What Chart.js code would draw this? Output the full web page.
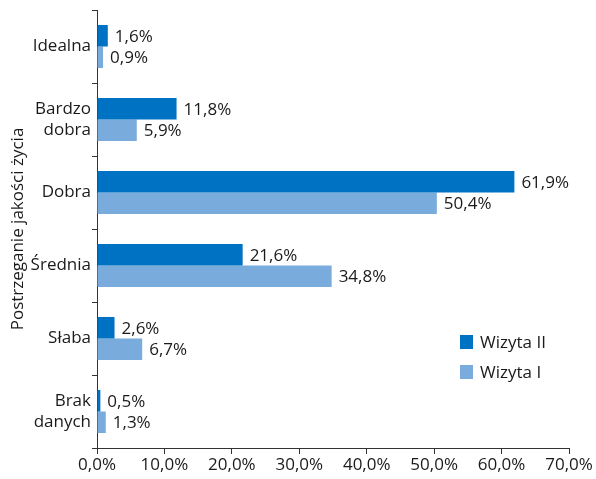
<!DOCTYPE html>
<html>
<head>
<meta charset="utf-8">
<script src="https://cdn.jsdelivr.net/npm/chart.js@4/dist/chart.umd.min.js"></script>
<style>
  body { margin: 0; background: #fff; }
  #wrap { width: 596px; height: 479px; }
</style>
</head>
<body>
<div id="wrap"><canvas id="chart" width="596" height="479"></canvas></div>
<script>
// values
const categories = ['Idealna', ['Bardzo', 'dobra'], 'Dobra', 'Średnia', 'Słaba', ['Brak', 'danych']];
const wizyta2 = [1.6, 11.8, 61.9, 21.6, 2.6, 0.5];
const wizyta1 = [0.9, 5.9, 50.4, 34.8, 6.7, 1.3];
const seriesNames = ['Wizyta II', 'Wizyta I'];
const xTicks = [0, 10, 20, 30, 40, 50, 60, 70];

const DARK = '#0072c3';
const LIGHT = '#7aabdd';
const TEXT = '#1a1a1a';
const FONT = "'Open Sans', sans-serif";

const pct = v => v.toFixed(1).replace('.', ',') + '%';

// value labels next to bar ends
const barLabels = {
  id: 'barLabels',
  afterDatasetsDraw(chart) {
    const ctx = chart.ctx;
    ctx.save();
    ctx.font = '17px ' + FONT;
    ctx.fillStyle = TEXT;
    ctx.textAlign = 'left';
    ctx.textBaseline = 'middle';
    chart.data.datasets.forEach((ds, i) => {
      chart.getDatasetMeta(i).data.forEach((bar, j) => {
        ctx.fillText(pct(ds.data[j]), bar.x + 7, bar.y + 1);
      });
    });
    ctx.restore();
  }
};

// legend box sitting inside the plot, lower right
const innerLegend = {
  id: 'innerLegend',
  afterDraw(chart) {
    const ctx = chart.ctx;
    ctx.save();
    ctx.font = '17px ' + FONT;
    ctx.textBaseline = 'middle';
    chart.data.datasets.forEach((ds, i) => {
      const y = 342 + i * 30;
      ctx.fillStyle = ds.backgroundColor;
      ctx.fillRect(460, y - 7, 13, 14);
      ctx.fillStyle = TEXT;
      ctx.fillText(ds.label, 480, y + 1);
    });
    ctx.restore();
  }
};

new Chart(document.getElementById('chart'), {
  type: 'bar',
  data: {
    labels: categories,
    datasets: [
      { label: seriesNames[0], data: wizyta2, backgroundColor: DARK },
      { label: seriesNames[1], data: wizyta1, backgroundColor: LIGHT }
    ]
  },
  options: {
    indexAxis: 'y',
    responsive: false,
    animation: false,
    categoryPercentage: 0.59,
    barPercentage: 1,
    layout: { padding: { left: 0, top: 10, right: 27, bottom: 0 } },
    plugins: {
      legend: { display: false },
      tooltip: { enabled: false }
    },
    scales: {
      x: {
        min: 0,
        max: 70,
        afterBuildTicks: s => { s.ticks = xTicks.map(v => ({ value: v })); },
        afterFit: s => { s.height = 31; s.paddingLeft = 0; s.paddingRight = 0; },
        border: { color: '#333', width: 1 },
        grid: { drawOnChartArea: false, color: '#333', tickLength: 6 },
        ticks: {
          color: TEXT,
          font: { family: FONT, size: 17 },
          padding: 1,
          maxRotation: 0,
          callback: v => pct(v)
        }
      },
      y: {
        afterFit: s => { s.width = 97; s.paddingTop = 0; s.paddingBottom = 0; },
        border: { color: '#333', width: 1 },
        grid: { drawOnChartArea: false, color: '#333', tickLength: 5, offset: true },
        ticks: {
          color: TEXT,
          font: { family: FONT, size: 17, lineHeight: 1.25 },
          padding: 1
        },
        title: {
          display: true,
          text: 'Postrzeganie jakości życia',
          color: TEXT,
          font: { family: FONT, size: 17 },
          padding: { top: 8, bottom: 0 }
        }
      }
    }
  },
  plugins: [barLabels, innerLegend]
});
</script>
</body>
</html>
